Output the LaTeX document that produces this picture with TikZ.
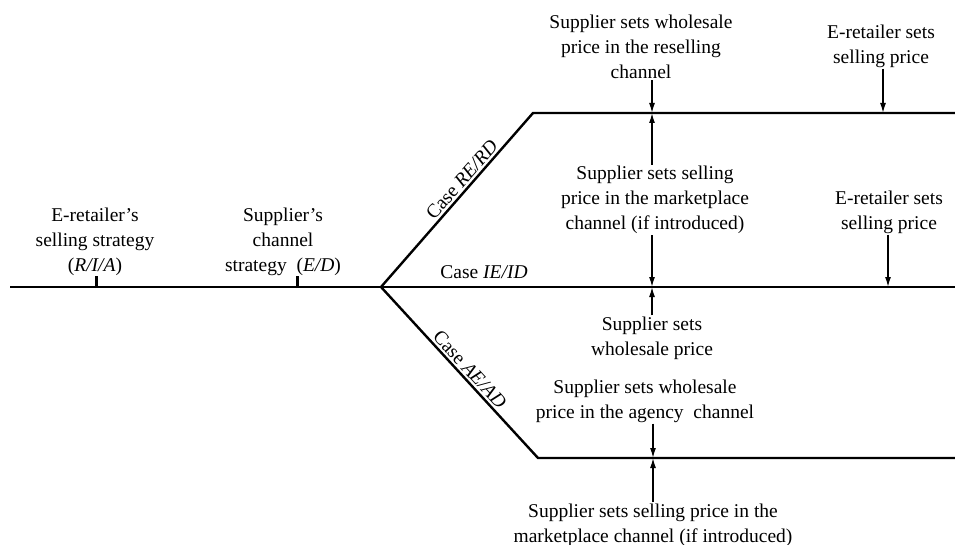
\documentclass[tikz,border=0pt]{standalone}
\usepackage{fontspec}
\setmainfont{Liberation Serif}
\usetikzlibrary{arrows.meta, positioning}

\begin{document}
\begin{tikzpicture}[x=1pt, y=-1pt, >={Latex[length=10pt, width=6pt]},
  lbl/.style={align=center, font=\fontsize{19.5}{25}\selectfont, inner sep=1pt},
  branch/.style={line width=2.4pt},
  ptr/.style={->, line width=1.4pt}]
  \useasboundingbox (0,0) rectangle (955,545);
  \coordinate (start) at (10,287);
  \coordinate (fork) at (381,287);
  \coordinate (rtop) at (533,113);
  \coordinate (rend) at (955,113);
  \coordinate (iend) at (955,287);
  \coordinate (abot) at (538,458);
  \coordinate (aend) at (955,458);
  \draw[branch] (start) -- (fork) -- (iend);
  \draw[branch] (fork) -- (rtop) -- (rend);
  \draw[branch] (fork) -- (abot) -- (aend);
  \draw[line width=3pt] (96,288) -- (96,276);
  \draw[line width=3pt] (297,288) -- (297,276);
  \node[lbl] (sellstrat) at (95,242) {E-retailer’s\\selling strategy\\(\textit{R/I/A})};
  \node[lbl] (chanstrat) at (283,242) {Supplier’s\\channel\\strategy\ \ (\textit{E/D})};
  \path (fork) -- (rtop) node[lbl, sloped, above, pos=0.58, inner sep=3pt] (caseR) {Case \textit{RE/RD}};
  \path (fork) -- (abot) node[lbl, sloped, above, pos=0.52, inner sep=3pt] (caseA) {Case \textit{AE/AD}};
  \node[lbl] (caseI) at (484,272) {Case \textit{IE/ID}};
  \coordinate (rw) at (652,113);
  \coordinate (ir) at (652,287);
  \coordinate (aw) at (653,458);
  \coordinate (re) at (883,113);
  \coordinate (ie) at (888,287);
  \node[lbl] (wsresell) at (641,47) {Supplier sets wholesale\\price in the reselling\\channel};
  \node[lbl] (spmarket) at (655,200) {Supplier sets selling\\price in the marketplace\\channel (if introduced)};
  \node[lbl] (wsind) at (652,338) {Supplier sets\\wholesale price};
  \node[lbl] (ertop) at (881,46) {E-retailer sets\\selling price};
  \node[lbl] (ermid) at (889,212) {E-retailer sets\\selling price};
  \node[lbl] (wsagency) at (645,401) {Supplier sets wholesale\\price in the agency\ \ channel};
  \node[lbl] (spagency) at (653,525) {Supplier sets selling price in the\\marketplace channel (if introduced)};
  \draw[ptr] (wsresell.south -| rw) -- (rw);
  \draw[ptr] (spmarket.north -| rw) -- (rw);
  \draw[ptr] (spmarket.south -| ir) -- (ir);
  \draw[ptr] (wsind.north -| ir) -- (ir);
  \draw[ptr] (ertop.south -| re) -- (re);
  \draw[ptr] (ermid.south -| ie) -- (ie);
  \draw[ptr] (wsagency.south -| aw) -- (aw);
  \draw[ptr] (spagency.north -| aw) -- (aw);
\end{tikzpicture}
\end{document}
